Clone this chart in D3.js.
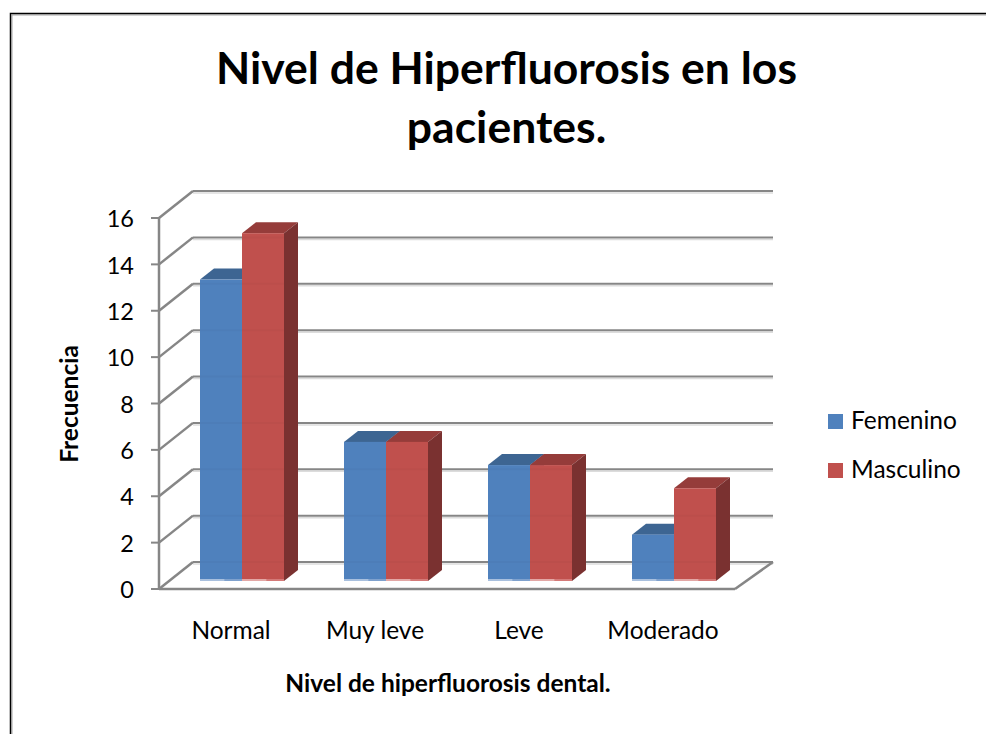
<!DOCTYPE html>
<html>
<head>
<meta charset="utf-8">
<script src="https://cdn.jsdelivr.net/npm/d3@7/dist/d3.min.js"></script>
<style>
html, body { margin: 0; padding: 0; background: #fff; }
svg { display: block; }
text { font-family: Lato, "Open Sans", sans-serif; fill: #000; }
</style>
</head>
<body>
<div id="chart"></div>
<script>
// Chart values
var categories = ["Normal", "Muy leve", "Leve", "Moderado"];
var femenino = [13, 6, 5, 2];
var masculino = [15, 6, 5, 4];
var yTicks = [0, 2, 4, 6, 8, 10, 12, 14, 16];
var seriesNames = ["Femenino", "Masculino"];
var titleLines = ["Nivel de Hiperfluorosis en los", "pacientes."];

var width = 986, height = 734;

// Box of the 3d plot: front wall and how far back the depth goes
var depthX = 34, depthY = -27;
var backRight = 773;
var barDepthX = 14, barDepthY = -11;
var gridColor = "#868686", shadowColor = "#dcdcdc";

var blue = { front: "#4f81bd", top: "#3d6592", side: "#395f8c", foot: "#a9c0de", foot2: "#7fa1cd" };
var red = { front: "#c0504d", top: "#953c3a", side: "#7a3130", foot: "#e3a8a6", foot2: "#d47a78" };

var svg = d3.select("#chart")
	.append("svg")
	.attr("width", width)
	.attr("height", height);

// Outer frame of the picture, with its grey shadow
svg.append("path")
	.attr("d", "M12,734V15H986")
	.attr("fill", "none")
	.attr("stroke", "#a6a6a6")
	.attr("stroke-width", 1);
svg.append("path")
	.attr("d", "M10.5,734V13.5H986")
	.attr("fill", "none")
	.attr("stroke", "#000")
	.attr("stroke-width", 1.5);

var x = d3.scaleBand().domain(categories).range([159, 735]);
var y = d3.scaleLinear().domain([0, 16]).range([589, 218]);

// Back wall gridlines and the diagonals on the left wall
var grid = svg.append("g");
yTicks.forEach(function(t) {
	grid.append("line")
		.attr("x1", 159 + depthX).attr("x2", backRight)
		.attr("y1", y(t) + depthY + 2).attr("y2", y(t) + depthY + 2)
		.attr("stroke", shadowColor).attr("stroke-width", 1.5);
	grid.append("line")
		.attr("x1", 159 + depthX).attr("x2", backRight)
		.attr("y1", y(t) + depthY).attr("y2", y(t) + depthY)
		.attr("stroke", gridColor).attr("stroke-width", 2);
	grid.append("line")
		.attr("x1", 159).attr("x2", 159 + depthX)
		.attr("y1", y(t)).attr("y2", y(t) + depthY)
		.attr("stroke", gridColor).attr("stroke-width", 2.5);
	// tick mark
	grid.append("line")
		.attr("x1", 151).attr("x2", 159)
		.attr("y1", y(t)).attr("y2", y(t))
		.attr("stroke", gridColor).attr("stroke-width", 2);
});

// Front axis lines and floor edge
grid.append("line")
	.attr("x1", 159).attr("x2", 159)
	.attr("y1", y(0)).attr("y2", y(16))
	.attr("stroke", gridColor).attr("stroke-width", 2.5);
grid.append("line")
	.attr("x1", 159).attr("x2", 735)
	.attr("y1", y(0)).attr("y2", y(0))
	.attr("stroke", gridColor).attr("stroke-width", 2.5);
grid.append("line")
	.attr("x1", 735).attr("x2", backRight)
	.attr("y1", y(0)).attr("y2", y(0) + depthY)
	.attr("stroke", gridColor).attr("stroke-width", 2.5);

// Bars
var barWidth = 42, barInset = 41, baseShift = 8;

function drawBar(g, left, value, col) {
	var right = left + barWidth;
	var top = y(value) - baseShift;
	var base = y(0) - baseShift;

	g.append("path")
		.attr("fill", col.top)
		.attr("d", d3.line()([[left, top], [left + barDepthX, top + barDepthY],
			[right + barDepthX, top + barDepthY], [right, top]]));
	g.append("path")
		.attr("fill", col.side)
		.attr("d", d3.line()([[right, top], [right + barDepthX, top + barDepthY],
			[right + barDepthX, base + barDepthY], [right, base]]));
	g.append("rect")
		.attr("x", left).attr("y", top)
		.attr("width", barWidth).attr("height", base - top)
		.attr("fill", col.front);
	// light strip along the foot of the bar
	g.append("rect")
		.attr("x", left).attr("y", base - 2)
		.attr("width", barWidth).attr("height", 2)
		.attr("fill", col.foot2);
	g.append("rect")
		.attr("x", left).attr("y", base - 2)
		.attr("width", barWidth * 0.58).attr("height", 2)
		.attr("fill", col.foot);
	// gridline showing faintly through the front
	yTicks.forEach(function(t) {
		var gy = y(t) + depthY;
		if (gy > top && gy < base - 3) {
			g.append("line")
				.attr("x1", left).attr("x2", right)
				.attr("y1", gy).attr("y2", gy)
				.attr("stroke", "#000").attr("stroke-opacity", 0.025).attr("stroke-width", 2);
		}
	});
}

var bars = svg.append("g");
categories.forEach(function(c, i) {
	var left = x(c) + barInset;
	drawBar(bars, left, femenino[i], blue);
	drawBar(bars, left + barWidth, masculino[i], red);
});

// Tick labels
svg.append("g").selectAll("text")
	.data(yTicks)
	.enter().append("text")
	.attr("x", 134)
	.attr("y", function(d) { return y(d) + 1; })
	.attr("dy", "0.35em")
	.attr("text-anchor", "end")
	.attr("font-size", 23.5)
	.text(function(d) { return d; });

svg.append("g").selectAll("text")
	.data(categories)
	.enter().append("text")
	.attr("x", function(d) { return x(d) + x.bandwidth() / 2; })
	.attr("y", 639)
	.attr("text-anchor", "middle")
	.attr("font-size", 24.5)
	.text(function(d) { return d; });

// Title and axis titles
svg.append("g").selectAll("text")
	.data(titleLines)
	.enter().append("text")
	.attr("x", 506.5)
	.attr("y", function(d, i) { return 84 + i * 59; })
	.attr("text-anchor", "middle")
	.attr("font-size", 44.5)
	.attr("font-weight", "bold")
	.text(function(d) { return d; });

svg.append("text")
	.attr("x", 448)
	.attr("y", 692)
	.attr("text-anchor", "middle")
	.attr("font-size", 24.5)
	.attr("font-weight", "bold")
	.text("Nivel de hiperfluorosis dental.");

svg.append("text")
	.attr("transform", "translate(78,404) rotate(-90)")
	.attr("text-anchor", "middle")
	.attr("font-size", 24.5)
	.attr("font-weight", "bold")
	.text("Frecuencia");

// Legend
var legend = svg.append("g").selectAll("g")
	.data(seriesNames)
	.enter().append("g")
	.attr("transform", function(d, i) { return "translate(828," + (414 + i * 49) + ")"; });
legend.append("rect")
	.attr("width", 15).attr("height", 15)
	.attr("fill", function(d, i) { return i === 0 ? blue.front : red.front; });
legend.append("text")
	.attr("x", 23)
	.attr("y", 15)
	.attr("font-size", 24.5)
	.text(function(d) { return d; });
</script>
</body>
</html>
